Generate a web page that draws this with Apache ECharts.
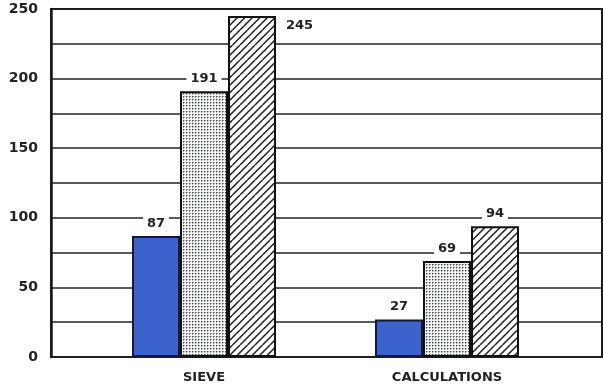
<!DOCTYPE html>
<html>
<head>
<meta charset="utf-8">
<script src="https://cdn.jsdelivr.net/npm/echarts@6/dist/echarts.min.js"></script>
<style>
html,body{margin:0;padding:0;background:#fff;}
#chart{width:603px;height:388px;}
</style>
</head>
<body>
<div id="chart"></div>
<script>
// ---- data ----
var categories = ['SIEVE', 'CALCULATIONS'];
var solidValues = [87, 27];
var dottedValues = [191, 69];
var hatchedValues = [245, 94];
var yTicks = [0, 50, 100, 150, 200, 250];

// ---- patterns ----
function dotPattern() {
  var c = document.createElement('canvas');
  c.width = 3; c.height = 3;
  var g = c.getContext('2d');
  g.fillStyle = '#f2f3f3'; g.fillRect(0, 0, 3, 3);
  g.fillStyle = '#9fa3a5';
  g.fillRect(1, 0, 1, 1);
  g.fillRect(0, 1, 1, 1);
  g.fillStyle = '#3d4245';
  g.fillRect(0, 0, 1, 1);
  return c;
}
function hatchPattern() {
  var s = 7.5;
  var c = document.createElement('canvas');
  c.width = 15; c.height = 15;
  var g = c.getContext('2d');
  g.fillStyle = '#ffffff'; g.fillRect(0, 0, 15, 15);
  g.strokeStyle = '#1a1a1a'; g.lineWidth = 1.4;
  [-15, -7.5, 0, 7.5, 15].forEach(function (k) {
    g.beginPath(); g.moveTo(k, 15); g.lineTo(k + 15, 0); g.stroke();
  });
  return c;
}

var font = '"DejaVu Sans", sans-serif';
var labelBase = {
  show: true, position: 'top', distance: 5,
  color: '#222', fontFamily: font, fontSize: 13, fontWeight: 'bold',
  backgroundColor: '#fff', padding: [1, 4]
};

var chart = echarts.init(document.getElementById('chart'), null, {renderer: 'canvas'});
chart.setOption({
  animation: false,
  backgroundColor: '#fff',
  grid: [
    {left: 51, right: 1, top: 9, bottom: 31, show: true, borderColor: '#1a1a1a', borderWidth: 2, backgroundColor: 'transparent'},
    {left: 82.5, right: 34.5, top: 9, bottom: 31}
  ],
  xAxis: [
    {gridIndex: 0, type: 'value', min: 0, max: 1, show: false},
    {gridIndex: 1, type: 'category', data: categories,
     axisLine: {show: false}, axisTick: {show: false},
     axisLabel: {color: '#222', fontFamily: font, fontSize: 13, fontWeight: 'bold', margin: 14}}
  ],
  yAxis: [
    {gridIndex: 0, type: 'value', min: 0, max: 250, interval: 25,
     axisLine: {show: true, lineStyle: {color: '#1a1a1a', width: 2.5}},
     axisTick: {show: false},
     axisLabel: {color: '#222', fontFamily: font, fontSize: 14, fontWeight: 'bold', margin: 13,
       formatter: function (v) { return yTicks.indexOf(v) >= 0 ? String(v) : ''; }},
     splitLine: {show: true, lineStyle: {color: '#222', width: 1.5}}},
    {gridIndex: 1, type: 'value', min: 0, max: 250, show: false, splitLine: {show: false}}
  ],
  series: [
    {type: 'bar', xAxisIndex: 1, yAxisIndex: 1, data: solidValues, barWidth: 48, barGap: '0%',
     itemStyle: {color: '#3c63cc', borderColor: '#141a3a', borderWidth: 2},
     label: labelBase},
    {type: 'bar', xAxisIndex: 1, yAxisIndex: 1, data: dottedValues, barWidth: 48, barGap: '0%',
     itemStyle: {color: {image: dotPattern(), repeat: 'repeat'}, borderColor: '#111', borderWidth: 2},
     label: labelBase},
    {type: 'bar', xAxisIndex: 1, yAxisIndex: 1, barWidth: 48, barGap: '0%',
     data: hatchedValues.map(function (v, i) {
       return i === 0 ? {value: v, label: {position: [54, 2]}} : v;
     }),
     itemStyle: {color: {image: hatchPattern(), repeat: 'repeat'}, borderColor: '#111', borderWidth: 2},
     label: labelBase}
  ]
});
</script>
</body>
</html>
